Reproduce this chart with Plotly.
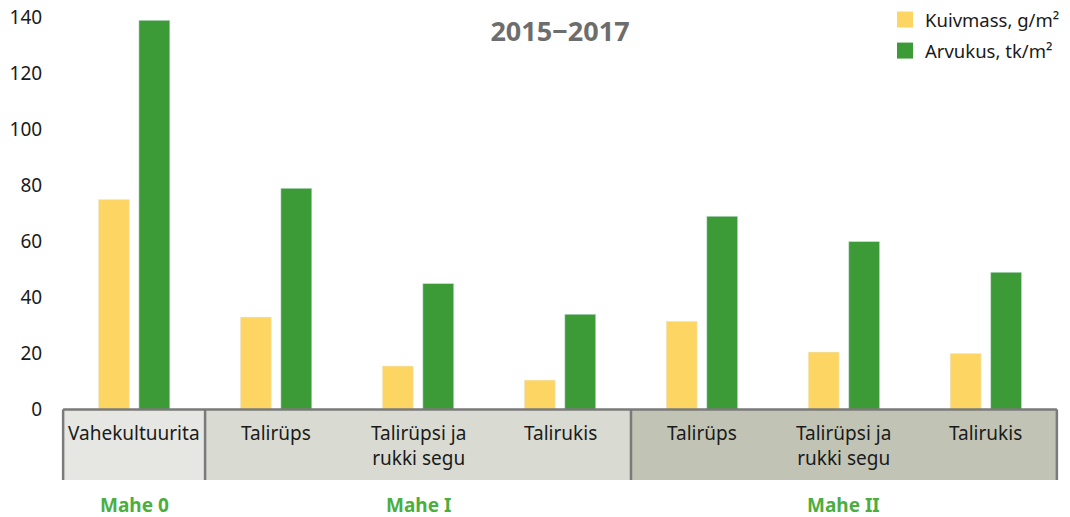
import plotly.graph_objects as go

# ---- data ----
categories = ["Vahekultuurita", "Talirüps", "Talirüpsi ja<br>rukki segu", "Talirukis",
              "Talirüps", "Talirüpsi ja<br>rukki segu", "Talirukis"]
kuivmass = [75, 33, 15.5, 10.5, 31.5, 20.5, 20]
arvukus = [139, 79, 45, 34, 69, 60, 49]
groups = ["Mahe 0", "Mahe I", "Mahe II"]
group_sizes = [1, 3, 3]
series_names = ["Kuivmass, g/m²", "Arvukus, tk/m²"]
title_text = "2015−2017"
y_ticks = [0, 20, 40, 60, 80, 100, 120, 140]

# ---- style ----
YELLOW = "#FDD562"
GREEN = "#3D9B37"
BOX_COLORS = ["#E6E7E2", "#D9DBD3", "#C1C4B5"]
BORDER = "#7A7A7A"
FONT = "Noto Sans"
Y_MIN, Y_MAX = -25.2, 142.7
X_PAD = 0.015

x = list(range(len(categories)))

fig = go.Figure()
fig.add_trace(go.Bar(x=x, y=kuivmass, marker_color=YELLOW, showlegend=False, name=series_names[0]))
fig.add_trace(go.Bar(x=x, y=arvukus, marker_color=GREEN, showlegend=False, name=series_names[1]))
# legend entries with larger square swatches
for nm, col, grp in [(series_names[0], YELLOW, "a"), (series_names[1], GREEN, "b")]:
    fig.add_trace(go.Scatter(x=[None], y=[None], mode="markers", name=nm, legendgroup=grp,
                             marker=dict(symbol="square", size=16, color=col)))

shapes = []
annotations = []
start = 0
for g, n, col in zip(groups, group_sizes, BOX_COLORS):
    x0 = start - 0.5
    x1 = start + n - 0.5
    shapes.append(dict(type="rect", xref="x", yref="y", x0=x0, x1=x1, y0=Y_MIN, y1=0,
                       fillcolor=col, line=dict(width=0), layer="below"))
    annotations.append(dict(x=(x0 + x1) / 2, xref="x", y=-0.053, yref="paper",
                            text="<b>" + g + "</b>", showarrow=False, yanchor="middle",
                            font=dict(family=FONT, size=19, color="#4BAE3F")))
    start += n

# borders: top line and verticals at group boundaries
shapes.append(dict(type="line", xref="x", yref="y", x0=-0.5, x1=len(categories) - 0.5, y0=0, y1=0,
                   line=dict(color=BORDER, width=2.5)))
b = -0.5
bounds = [b]
for n in group_sizes:
    b += n
    bounds.append(b)
for bx in bounds:
    shapes.append(dict(type="line", xref="x", yref="y", x0=bx, x1=bx, y0=Y_MIN, y1=0,
                       line=dict(color=BORDER, width=2.5)))

for xi, c in zip(x, categories):
    annotations.append(dict(x=xi, xref="x", y=0, yref="y", text=c, showarrow=False,
                            yanchor="top", yshift=-9, align="center",
                            font=dict(family=FONT, size=19, color="#1A1A1A")))

fig.update_layout(
    width=1070, height=517,
    margin=dict(l=61, r=11, t=10, b=37, autoexpand=False),
    paper_bgcolor="white", plot_bgcolor="white",
    barmode="group", bargap=0.43, bargroupgap=0.235,
    hovermode=False,
    title=dict(text="<b>" + title_text + "</b>", x=560 / 1070, xanchor="center",
               y=1 - 32 / 517, yanchor="middle", xref="container", yref="container",
               font=dict(family=FONT, size=27, color="#6D6D6D")),
    xaxis=dict(range=[-0.5 - X_PAD, len(categories) - 0.5 + X_PAD], showticklabels=False,
               showgrid=False, zeroline=False, showline=False, ticks="", automargin=False),
    yaxis=dict(range=[Y_MIN, Y_MAX], tickvals=y_ticks, showgrid=False, zeroline=False,
               showline=False, ticks="outside", ticklen=14, tickcolor="rgba(0,0,0,0)",
               automargin=False,
               tickfont=dict(family=FONT, size=19, color="#1A1A1A")),
    legend=dict(x=885 / 1070, xanchor="left", y=1 - 1 / 517, yanchor="top", xref="container",
                yref="container", tracegroupgap=4,
                font=dict(family=FONT, size=18.5, color="#1A1A1A"), bgcolor="rgba(0,0,0,0)"),
    shapes=shapes,
    annotations=annotations,
)

fig.write_html("out.html", config={"displayModeBar": False},
               post_script="document.body.style.margin='0';")
